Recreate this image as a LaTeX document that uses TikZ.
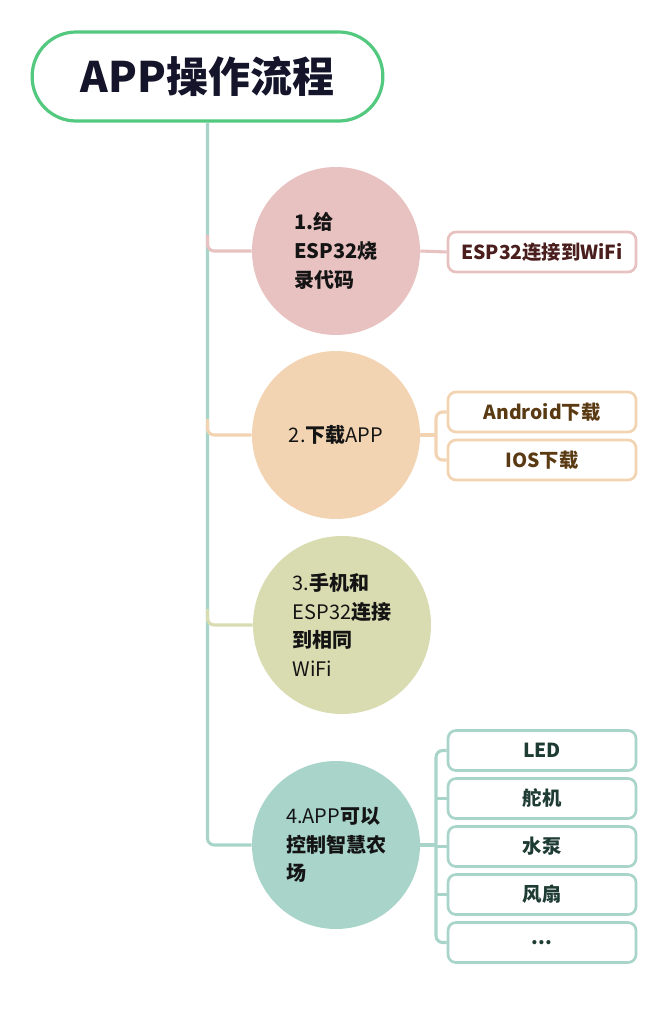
\documentclass[tikz,border=0pt]{standalone}
\usepackage{fontspec}
\setmainfont{Noto Sans CJK SC}
\definecolor{titlegreen}{HTML}{52C97E}
\definecolor{titletext}{HTML}{14142B}
\definecolor{pinkc}{HTML}{E8C1C1}
\definecolor{orangec}{HTML}{F2D4B2}
\definecolor{olivec}{HTML}{D9DCB0}
\definecolor{tealc}{HTML}{A8D4C9}
\definecolor{pinktext}{HTML}{4B1E1E}
\definecolor{orangetext}{HTML}{5A3A12}
\definecolor{tealtext}{HTML}{1E3B34}
\begin{document}
\begin{tikzpicture}[x=0.75pt,y=-0.75pt,line join=round,
  circ/.style={circle, inner sep=0pt, minimum size=126pt, text=black!92,
    font=\fontsize{15pt}{21.5pt}\selectfont, align=left},
  leaf/.style={draw, line width=2pt, rounded corners=6pt, fill=white,
    minimum width=141pt, minimum height=30pt, inner sep=0pt,
    font=\fontsize{14.5pt}{18pt}\selectfont\bfseries},
  link/.style={line width=2.3pt, rounded corners=5pt}]
\useasboundingbox (0,0) rectangle (666,1034);

% title
\node[draw=titlegreen, line width=2.4pt, rounded corners=33pt, fill=white,
  minimum width=263pt, minimum height=66.75pt, inner sep=0pt,
  text=titletext, font=\fontsize{31.5pt}{35pt}\selectfont\bfseries] (title) at (207.5,76.5) {APP操作流程};

% circles
\node[circ, fill=pinkc] (c1) at (336,251) {\bfseries 1.给\\\bfseries ESP32烧\\\bfseries 录代码};
\node[circ, fill=orangec] (c2) at (336,435) {2.{\bfseries 下载}APP};
\node[circ, fill=olivec, minimum size=133.5pt] (c3) at (342,625) {3.{\bfseries 手机和}\\ESP32{\bfseries 连接}\\{\bfseries 到相同}\\WiFi};
\node[circ, fill=tealc] (c4) at (336,845) {4.APP{\bfseries 可以}\\{\bfseries 控制智慧农}\\{\bfseries 场}};

% leaves
\node[leaf, draw=pinkc, text=pinktext] (b1) at (542,252) {ESP32连接到WiFi};
\node[leaf, draw=orangec, text=orangetext] (b2a) at (542,412) {Android下载};
\node[leaf, draw=orangec, text=orangetext] (b2b) at (542,460) {IOS下载};
\node[leaf, draw=tealc, text=tealtext] (b4a) at (542,750.5) {LED};
\node[leaf, draw=tealc, text=tealtext] (b4b) at (542,798.5) {舵机};
\node[leaf, draw=tealc, text=tealtext] (b4c) at (542,846.5) {水泵};
\node[leaf, draw=tealc, text=tealtext] (b4d) at (542,894.5) {风扇};
\node[leaf, draw=tealc, text=tealtext] (b4e) at (542,942.5) {...};

% trunk and branches
\draw[link, tealc] (title.south) |- (c4.west);
\draw[link, pinkc] ([yshift=12pt]title.south |- c1.west) |- (c1.west);
\draw[link, orangec] ([yshift=12pt]title.south |- c2.west) |- (c2.west);
\draw[link, olivec] ([yshift=12pt]title.south |- c3.west) |- (c3.west);

% circle to leaves
\draw[link, pinkc] (c1.east) -- (b1.west);
\draw[link, orangec] (c2.east) -- ([xshift=-8pt]b2a.west |- c2.east);
\draw[link, orangec] (b2a.west) -| ([xshift=-8pt]b2b.west) -- (b2b.west);
\draw[link, tealc] (c4.east) -- ([xshift=-8pt]b4a.west |- c4.east);
\draw[link, tealc] (b4a.west) -| ([xshift=-8pt]b4e.west) -- (b4e.west);
\draw[link, tealc] (b4b.west) -- ([xshift=-8pt]b4b.west);
\draw[link, tealc] (b4c.west) -- ([xshift=-8pt]b4c.west);
\draw[link, tealc] (b4d.west) -- ([xshift=-8pt]b4d.west);
\end{tikzpicture}
\end{document}
